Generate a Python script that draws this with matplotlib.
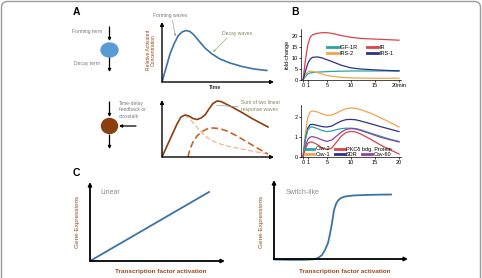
import matplotlib
matplotlib.use("Agg")
import matplotlib.pyplot as plt
from matplotlib.patches import Ellipse, FancyBboxPatch

plt.rcParams["font.family"] = ["Liberation Sans", "DejaVu Sans"]

W, H = 482, 278

# ---- panel A, single wave (time, concentration) ----
wave_t = [0, 4, 8, 12, 16, 20, 24, 28, 32, 37, 43, 50, 58, 68, 80, 92, 105]
wave_c = [0, 14, 28, 38, 46, 50, 51.5, 50.5, 47, 41, 34, 28, 23, 19, 15.5, 13, 11.5]

# ---- panel A, two waves ----
sum_t = [0, 5, 10, 15, 19, 23, 27, 31, 35, 39, 43, 47, 51, 55, 59, 70, 80, 90, 106]
sum_c = [0, 11, 22, 33, 40, 42, 41, 38.5, 37.5, 39, 42, 48, 53.5, 56, 55.5, 50, 44.5, 38.5, 30]
first_t = [23, 28, 33, 38, 45, 55, 65, 75, 85, 95, 106]
first_c = [42, 38, 32, 26, 19.5, 14, 11, 9, 7, 5, 3]
second_t = [26, 28, 31, 35, 40, 46, 51, 57, 65, 75, 85, 95, 106]
second_c = [0, 8, 15, 21, 25.5, 28.5, 29, 28.5, 26, 21, 15, 9, 3]

# ---- panel B, top (minutes, fold-change) ----
b1_t = [0, 0.5, 1, 1.5, 2, 3, 4, 5, 6, 8, 10, 12, 15, 18, 20]
igf1r = [0, 1.5, 2.8, 3.2, 3.4, 3.6, 3.7, 3.8, 3.9, 4.0, 4.1, 4.1, 4.1, 4.1, 4.0]
ir = [0, 9, 16, 19.5, 20.6, 21.2, 21.5, 21.5, 21.2, 20.2, 19.4, 18.9, 18.6, 18.3, 18.1]
irs2 = [0, 2.5, 3.7, 4.0, 3.9, 3.4, 2.7, 2.1, 1.7, 1.2, 0.95, 0.85, 0.8, 0.8, 0.8]
irs1 = [0, 4, 7.5, 9.5, 10.3, 10.5, 10, 9.2, 8.4, 6.7, 5.5, 5, 4.6, 4.3, 4.2]

# ---- panel B, bottom ----
b2_t = [0, 0.5, 1, 1.5, 2, 3, 4, 5, 6, 7, 8, 9, 10, 11, 12, 14, 16, 18, 20]
cav1 = [0, 1.2, 2.0, 2.25, 2.3, 2.25, 2.15, 2.08, 2.1, 2.2, 2.32, 2.42, 2.45, 2.43, 2.37, 2.2, 1.98, 1.75, 1.5]
sdr = [0, 0.9, 1.45, 1.62, 1.63, 1.58, 1.52, 1.5, 1.55, 1.68, 1.8, 1.87, 1.88, 1.86, 1.8, 1.67, 1.53, 1.4, 1.27]
cav2 = [0, 0.9, 1.35, 1.5, 1.5, 1.42, 1.32, 1.27, 1.3, 1.37, 1.42, 1.44, 1.44, 1.42, 1.36, 1.2, 1.05, 0.9, 0.78]
cav60 = [0, 0.55, 0.88, 1.0, 1.02, 0.95, 0.85, 0.78, 0.85, 1.05, 1.25, 1.38, 1.42, 1.4, 1.33, 1.17, 1.0, 0.87, 0.75]
pkc = [0, 0.4, 0.68, 0.75, 0.74, 0.62, 0.45, 0.37, 0.45, 0.75, 1.05, 1.23, 1.28, 1.25, 1.15, 0.9, 0.62, 0.38, 0.15]

# ---- panel C ----
linear_x = [0, 119]
linear_y = [0, 69]
switch_x = [0, 15, 30, 40, 44, 48, 51, 54, 56, 58, 60, 62, 64, 67, 71, 79, 90, 102, 117]
switch_y = [-0.5, -0.8, -0.8, -0.3, 1, 4, 9, 16, 25, 36, 49, 55, 58.5, 61, 62.5, 63.5, 64, 64.3, 64.5]

BLUE = "#3d72a6"
BROWN = "#8a3f10"
LABEL = "#9b4a1e"
GRAY = "#7a7a7a"
OLIVE = "#85855e"

fig = plt.figure(figsize=(W / 100, H / 100), dpi=100)


def box(x0, y0, x1, y1):
    a = fig.add_axes([x0 / W, 1 - y1 / H, (x1 - x0) / W, (y1 - y0) / H])
    a.patch.set_alpha(0)
    return a


def arrow_axes(a, lw=1.0):
    for s in a.spines.values():
        s.set_visible(False)
    a.set_xticks([])
    a.set_yticks([])
    kw = dict(arrowstyle="-|>", color="black", lw=lw, mutation_scale=5,
              shrinkA=0, shrinkB=0)
    a.annotate("", xy=(1, 0), xytext=(0, 0), xycoords="axes fraction", arrowprops=kw)
    a.annotate("", xy=(0, 1), xytext=(0, 0), xycoords="axes fraction", arrowprops=kw)


# overlay in pixel coords for the diagram parts
ov = fig.add_axes([0, 0, 1, 1])
ov.set_xlim(0, W)
ov.set_ylim(H, 0)
ov.axis("off")
ov.add_patch(FancyBboxPatch((1.5, 1.5), 479, 290, boxstyle="round,pad=0,rounding_size=6",
                            fc="none", ec="#9a9a9a", lw=1.0))

for s, (x, y) in {"A": (76, 12), "B": (295, 12), "C": (76, 173)}.items():
    ov.text(x, y, s, fontsize=7.5, fontweight="bold", ha="center", va="center")

akw = dict(arrowstyle="-|>", color="black", lw=0.9, mutation_scale=4, shrinkA=0, shrinkB=0)
ov.add_patch(Ellipse((109.5, 50), 17, 14, color="#5b9bd5"))
ov.annotate("", xy=(109.5, 41), xytext=(109.5, 27), arrowprops=akw)
ov.annotate("", xy=(109.5, 72), xytext=(109.5, 58), arrowprops=akw)
ov.text(87, 32, "Forming term", fontsize=3.6, color=GRAY, ha="center", va="center")
ov.text(87, 63, "Decay term", fontsize=3.6, color=GRAY, ha="center", va="center")

ov.add_patch(Ellipse((109.5, 126), 16, 15, color=BROWN))
ov.annotate("", xy=(109.5, 117), xytext=(109.5, 102), arrowprops=akw)
ov.annotate("", xy=(119, 126), xytext=(136, 126), arrowprops=akw)
ov.annotate("", xy=(109.5, 149), xytext=(109.5, 135), arrowprops=akw)
ov.text(119, 101, "Time-delay\nfeedback or\ncrosstalk", fontsize=3.6, color=GRAY,
        ha="left", va="top", linespacing=1.35)

ov.text(151, 50, "Relative Activated\nConcentration", fontsize=3.6, color=LABEL,
        rotation=90, ha="center", va="center", linespacing=1.1)
ov.text(215, 87.5, "Time", fontsize=3.8, fontweight="bold", color="#333333",
        ha="center", va="center")
ov.text(170, 15, "Forming waves", fontsize=3.6, color=GRAY, ha="center", va="center")
ov.text(237, 33, "Decay waves", fontsize=3.6, color=OLIVE, ha="center", va="center")
ov.text(241, 106, "Sum of two linear\nresponse waves", fontsize=3.6, color=OLIVE,
        ha="left", va="center", linespacing=1.3)

ov.text(110, 193, "Linear", fontsize=5, color="#8c8c8c", ha="center", va="center")
ov.text(303, 193, "Switch-like", fontsize=5, color="#8c8c8c", ha="center", va="center")
ov.text(77, 222, "Gene Expressions", fontsize=4.6, color=LABEL, rotation=90,
        ha="center", va="center")
ov.text(262, 222, "Gene Expressions", fontsize=4.6, color=LABEL, rotation=90,
        ha="center", va="center")
ov.text(161, 272, "Transcription factor activation", fontsize=4.6, fontweight="bold",
        color=LABEL, ha="center", va="center")
ov.text(345, 271, "Transcription factor activation", fontsize=4.6, fontweight="bold",
        color=LABEL, ha="center", va="center")

lkw = dict(arrowstyle="-", color="#9a9a9a", lw=0.5)

# A top
a1 = box(162, 22, 274, 82)
a1.set_xlim(0, 112)
a1.set_ylim(0, 60)
arrow_axes(a1)
a1.plot(wave_t, wave_c, color=BLUE, lw=1.2, solid_capstyle="round")
a1.annotate("", xy=(14, 43), xytext=(10, 64), xycoords="data",
            arrowprops=dict(arrowstyle="-|>", color="#9a9a9a", lw=0.5, mutation_scale=3),
            annotation_clip=False)
a1.annotate("", xy=(49, 28), xytext=(67, 46),
            arrowprops=dict(arrowstyle="-|>", color="#8fbf5a", lw=0.5, mutation_scale=3),
            annotation_clip=False)

# A bottom
a2 = box(162, 100, 274, 157)
a2.set_xlim(0, 112)
a2.set_ylim(0, 57)
arrow_axes(a2)
a2.plot(first_t, first_c, color="#f4b585", lw=0.9, ls=(0, (4, 2)))
a2.plot(second_t, second_c, color="#c8632a", lw=1.2, ls=(0, (4, 2)))
a2.plot(sum_t, sum_c, color=BROWN, lw=1.2)
a2.annotate("", xy=(52, 52), xytext=(79, 50), arrowprops=lkw, annotation_clip=False)


def thick(leg):
    for ln in leg.get_lines():
        ln.set_linewidth(2.0)
    return leg


# B top
b1 = box(301, 29.4, 401, 80)
b1.set_xlim(-0.42, 20.42)
b1.set_ylim(0, 23)
for name, vals, col in [("IGF-1R", igf1r, "#2ba3a8"), ("IRS-2", irs2, "#f0a551"),
                        ("IR", ir, "#d9434a"), ("IRS-1", irs1, "#2d3286")]:
    b1.plot(b1_t, vals, color=col, lw=0.9, label=name)
thick(b1.legend(ncol=2, loc="center left", bbox_to_anchor=(327 / W, 1 - 50.5 / H),
                bbox_transform=fig.transFigure, frameon=False, fontsize=4,
                handlelength=2.0, handletextpad=0.3, columnspacing=1.6, labelspacing=0.15,
                borderpad=0, borderaxespad=0))
b1.set_xticks([0, 1, 5, 10, 15, 20])
b1.set_xticklabels(["0", "1", "5", "10", "15", "20min"])
b1.set_yticks([0, 5, 10, 15, 20])
b1.set_ylabel("fold-change", fontsize=4, labelpad=1)

# B bottom
b2 = box(301, 105, 401, 157)
b2.set_xlim(-0.42, 20.42)
b2.set_ylim(0, 2.6)
lines = {}
for name, vals, col in [("Cav-1", cav1, "#f0a551"), ("SDR", sdr, "#2d3286"),
                        ("Cav-2", cav2, "#2ba3a8"), ("Cav-60", cav60, "#8e44a0"),
                        ("PKCδ bdg. Protein", pkc, "#d9434a")]:
    lines[name], = b2.plot(b2_t, vals, color=col, lw=0.9, label=name)
legkw = dict(loc="center left", bbox_transform=fig.transFigure, frameon=False,
             fontsize=4, handlelength=1.7, handletextpad=0.3, borderpad=0,
             borderaxespad=0)
leg1 = thick(b2.legend([lines["Cav-2"], lines["PKCδ bdg. Protein"]],
                       ["Cav-2", "PKCδ bdg. Protein"], ncol=2, columnspacing=0.8,
                       bbox_to_anchor=(305 / W, 1 - 149 / H), **legkw))
b2.add_artist(leg1)
thick(b2.legend([lines["Cav-1"], lines["SDR"], lines["Cav-60"]], ["Cav-1", "SDR", "Cav-60"],
                ncol=3, columnspacing=0.8, bbox_to_anchor=(305 / W, 1 - 154.5 / H), **legkw))
b2.set_xticks([0, 1, 5, 10, 15, 20])
b2.set_yticks([0, 1, 2])

for b in (b1, b2):
    for s in ("top", "right"):
        b.spines[s].set_visible(False)
    for s in ("left", "bottom"):
        b.spines[s].set_linewidth(0.5)
    b.tick_params(labelsize=4, length=1.5, width=0.5, pad=1)

# C left
c1 = box(90, 182, 225, 261)
c1.set_xlim(0, 135)
c1.set_ylim(0, 79)
arrow_axes(c1, lw=1.3)
c1.plot(linear_x, linear_y, color=BLUE, lw=1.3)

# C right
c2 = box(274, 180, 408, 259)
c2.set_xlim(0, 134)
c2.set_ylim(0, 79)
arrow_axes(c2, lw=1.3)
c2.plot(switch_x, switch_y, color=BLUE, lw=1.3, clip_on=False)

fig.savefig("out.png", dpi=100)
